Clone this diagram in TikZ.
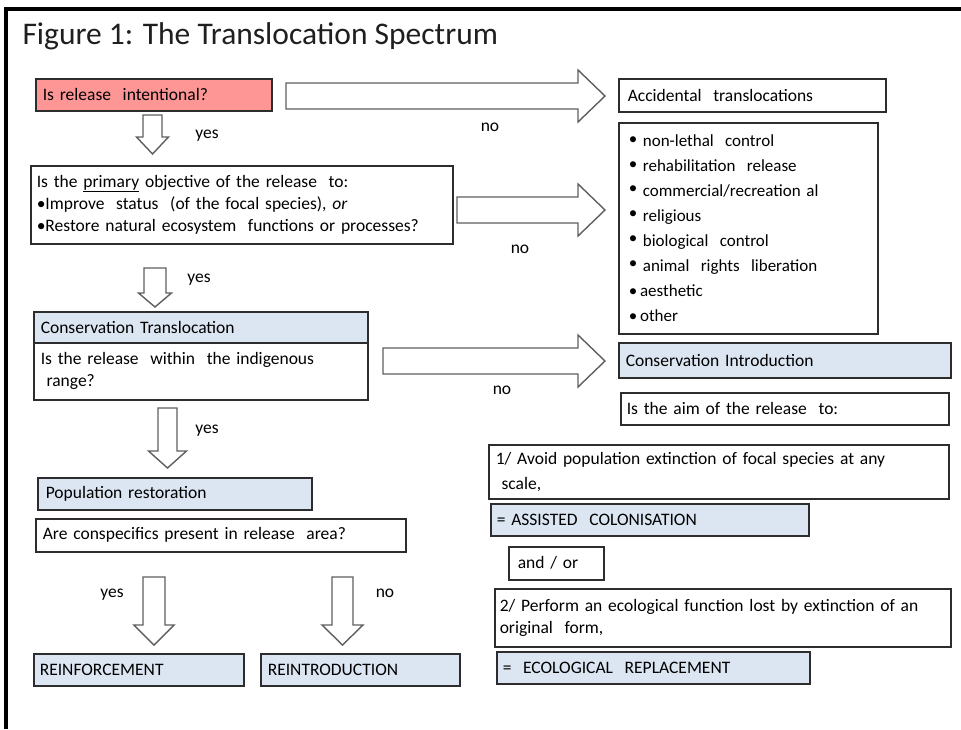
\documentclass[tikz,border=0pt]{standalone}
\usepackage{fontspec}
\setmainfont{Carlito}
\usepackage{tikz}
\usetikzlibrary{calc,positioning}
\definecolor{pinkfill}{RGB}{255,150,150}
\definecolor{bluefill}{RGB}{220,230,242}
\definecolor{boxline}{RGB}{45,45,45}
\definecolor{arrline}{RGB}{95,95,95}
\tikzset{box/.style={draw=boxline,line width=1.5pt,anchor=north west,inner ysep=0pt,inner xsep=7pt,align=left,font=\fontsize{17.5}{22}\selectfont}}
\tikzset{bluebox/.style={box,fill=bluefill}}
\tikzset{blockarr/.style={draw=arrline,fill=white,line width=1.4pt,line join=miter}}
\tikzset{lbl/.style={font=\fontsize{17.5}{20}\selectfont}}
\newcommand{\rightblock}[2]{%
  \draw[blockarr] let \p1=(#1), \p2=(#2) in
    (\x1,\y1+13pt) -- (\x2-27pt,\y1+13pt) -- (\x2-27pt,\y1+26pt) -- (\x2,\y1)
    -- (\x2-27pt,\y1-26pt) -- (\x2-27pt,\y1-13pt) -- (\x1,\y1-13pt) -- cycle;}
\newcommand{\downblock}[5]{%
  \draw[blockarr] let \p1=(#1), \p2=(#2) in
    (\x1-#3pt,\y1) -- (\x1-#3pt,\y2+#5pt) -- (\x1-#4pt,\y2+#5pt) -- (\x1,\y2)
    -- (\x1+#4pt,\y2+#5pt) -- (\x1+#3pt,\y2+#5pt) -- (\x1+#3pt,\y1) -- cycle;}
\newcommand{\hibullet}{\raisebox{0.35ex}{\textbullet}\ }

\begin{document}
\begin{tikzpicture}[x=1pt,y=-1pt]
	\useasboundingbox (0,0) rectangle (961,729);
	\draw[line width=3.5pt] (6,729) -- (6,9) -- (961,9);
	
	\node[anchor=base west,font=\fontsize{31.5}{36}\selectfont,text=black!88] (title) at (19,44) {Figure 1: The Translocation Spectrum};
	
	\node[box,fill=pinkfill,minimum width=236pt,minimum height=32pt,text width=222pt] (rel) at (35,78) {Is release \ intentional?};
	\node[box,minimum width=267pt,minimum height=33pt,text width=249pt,inner xsep=9pt] (acc) at (618,78) {Accidental \ translocations};
	\node[box,minimum width=259pt,minimum height=211pt,text width=239pt,inner xsep=10pt,font=\fontsize{17}{24.9}\selectfont] (other) at (618,122) {%
		\hibullet non-lethal \ control\\
		\hibullet rehabilitation \ release\\
		\hibullet commercial/recreation al\\
		\hibullet religious\\
		\hibullet biological \ control\\
		\hibullet animal \ rights \ liberation\\
		\textbullet\,aesthetic\\
		\textbullet\,other};
	\node[box,minimum width=422pt,minimum height=78pt,text width=410pt,inner xsep=6pt] (prim) at (30,165) {%
		Is the \underline{primary} objective of the release \ to:\\
		\textbullet Improve \ status \ (of the focal species), \textit{or}\\
		\textbullet Restore natural ecosystem \ functions or processes?};
	
	\node[bluebox,minimum width=334pt,minimum height=31pt,text width=320pt] (ctrans) at (33,311) {Conservation Translocation};
	\node[box,minimum width=334pt,minimum height=57pt,text width=320pt] (range) at (33,342) {Is the release \ within \ the indigenous\\ \ range?};
	
	\node[bluebox,minimum width=332pt,minimum height=35pt,text width=318pt] (cintro) at (618,342) {Conservation Introduction};
	\node[box,minimum width=328pt,minimum height=32pt,text width=316pt,inner xsep=6pt] (aim) at (620,392) {Is the aim of the release \ to:};
	\node[box,minimum width=460pt,minimum height=54pt,text width=446pt,font=\fontsize{17.5}{25}\selectfont] (aim1) at (488,444) {1/ Avoid population extinction of focal species at any\\ \ scale,};
	\node[bluebox,minimum width=318pt,minimum height=32pt,text width=306pt,inner xsep=6pt] (assist) at (490,503) {= ASSISTED \ COLONISATION};
	\node[box,minimum width=95pt,minimum height=33pt,text width=77pt,inner xsep=9pt] (andor) at (508,546) {and / or};
	\node[box,minimum width=456pt,minimum height=58pt,text width=446pt,inner xsep=5pt] (aim2) at (494,588) {2/ Perform an ecological function lost by extinction of an\\ original \ form,};
	\node[bluebox,minimum width=313pt,minimum height=32pt,text width=301pt,inner xsep=6pt] (ecorep) at (496,651) {= \ ECOLOGICAL \ REPLACEMENT};
	
	\node[bluebox,minimum width=274pt,minimum height=32pt,text width=258pt,inner xsep=8pt] (pop) at (37,477) {Population restoration};
	\node[box,minimum width=370pt,minimum height=33pt,text width=356pt] (consp) at (35,518) {Are conspecifics present in release \ area?};
	\node[bluebox,minimum width=210pt,minimum height=32pt,text width=198pt,inner xsep=6pt] (reinf) at (33,653) {REINFORCEMENT};
	\node[bluebox,minimum width=199pt,minimum height=32pt,text width=185pt] (reintro) at (260,653) {REINTRODUCTION};
	
	\coordinate (r1a) at (286,96);
	\coordinate (r1b) at (605,96);
	\coordinate (r2a) at (457,210);
	\coordinate (r2b) at (605,210);
	\coordinate (r3a) at (383,361);
	\coordinate (r3b) at (605,361);
	\rightblock{r1a}{r1b}
	\rightblock{r2a}{r2b}
	\rightblock{r3a}{r3b}
	
	\coordinate (d1a) at (152.5,115);
	\coordinate (d1b) at (152.5,154);
	\coordinate (d2a) at (155,268);
	\coordinate (d2b) at (155,307);
	\coordinate (d3a) at (167.5,408);
	\coordinate (d3b) at (167.5,468);
	\coordinate (d4a) at (154,577);
	\coordinate (d4b) at (154,645);
	\coordinate (d5a) at (342.5,577);
	\coordinate (d5b) at (342.5,645);
	\downblock{d1a}{d1b}{9.5}{16}{17}
	\downblock{d2a}{d2b}{11}{16.5}{14}
	\downblock{d3a}{d3b}{9.5}{19}{17}
	\downblock{d4a}{d4b}{11}{20}{20}
	\downblock{d5a}{d5b}{10.5}{20.5}{20}
	
	\node[lbl] (yes1) at (207,136) {yes};
	\node[lbl] (yes2) at (199,280) {yes};
	\node[lbl] (yes3) at (207,431) {yes};
	\node[lbl] (yes4) at (112,595) {yes};
	\node[lbl] (no1) at (490,127) {no};
	\node[lbl] (no2) at (520,249) {no};
	\node[lbl] (no3) at (502,390) {no};
	\node[lbl] (no4) at (385,593) {no};
\end{tikzpicture}
\end{document}
